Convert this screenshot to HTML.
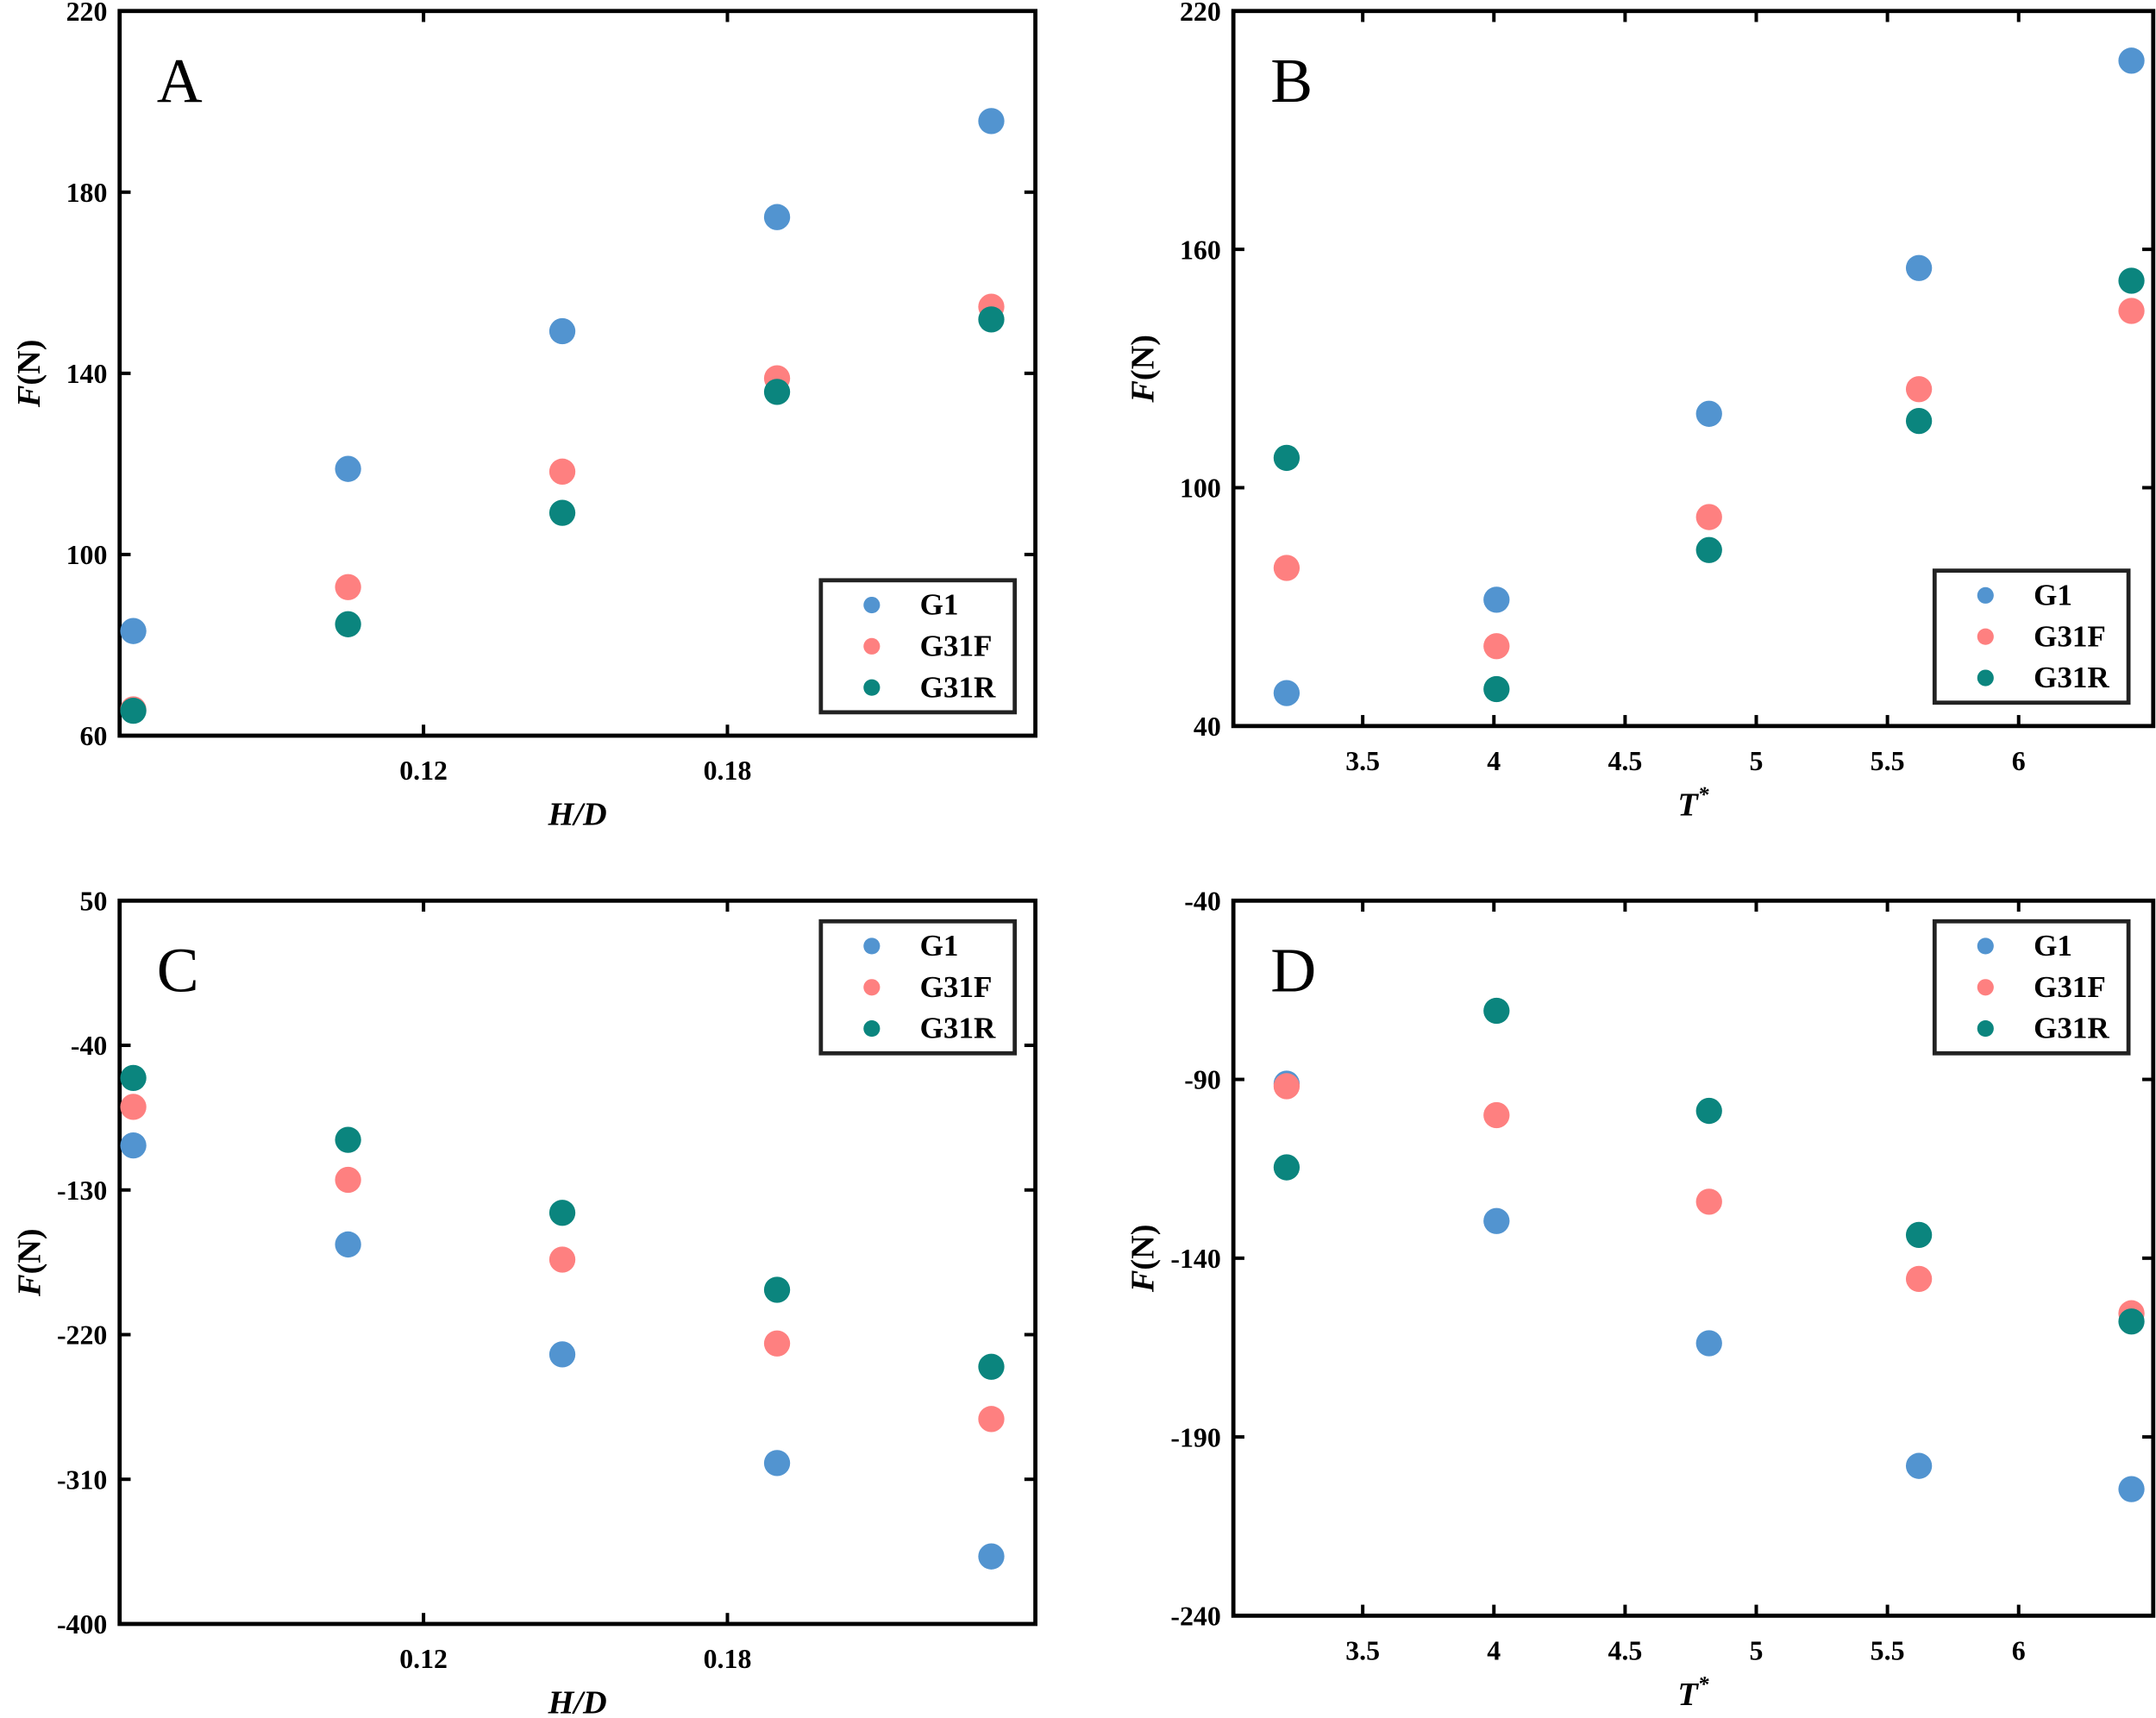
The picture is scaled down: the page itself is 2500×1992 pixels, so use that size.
<!DOCTYPE html>
<html><head><meta charset="utf-8"><style>
html,body{margin:0;padding:0;background:#fff}
svg{display:block}
text{font-family:"Liberation Serif",serif;font-weight:bold;fill:#000}
</style></head><body>
<svg id="fig" width="2500" height="1992" viewBox="0 0 1568 1249.4" xmlns="http://www.w3.org/2000/svg"></svg>
<script>
const seriesNames = ["G1","G31F","G31R"];
const seriesColors = ["#5294d0","#fe8080","#0b857e"];
// Panel A: H/D
const xA = [0.0627,0.1051,0.1474,0.1898,0.2321];
const aG1 = [83.1,118.9,149.3,174.5,195.7];
const aG31F = [65.8,92.8,118.3,138.9,154.7];
const aG31R = [65.5,84.6,109.2,135.9,151.9];
const xTicksA = [0.12,0.18];
const yTicksA = [60,100,140,180,220];
// Panel B: T*
const xB = [3.21,4.01,4.82,5.62,6.43];
const bG1 = [48.3,71.8,118.6,155.3,207.5];
const bG31F = [79.8,60.1,92.6,124.8,144.5];
const bG31R = [107.5,49.3,84.3,116.8,152.1];
const xTicksB = [3.5,4,4.5,5,5.5,6];
const yTicksB = [40,100,160,220];
// Panel C
const cG1 = [-102.3,-163.9,-232.3,-299.9,-358.0];
const cG31F = [-78.3,-123.7,-173.3,-225.5,-272.5];
const cG31R = [-60.3,-98.8,-144.2,-192.1,-240.0];
const yTicksC = [50,-40,-130,-220,-310,-400];
// Panel D
const dG1 = [-91.2,-129.6,-163.8,-198.1,-204.6];
const dG31F = [-91.9,-100.0,-124.2,-145.8,-155.4];
const dG31R = [-114.6,-70.8,-98.8,-133.5,-157.7];
const yTicksD = [-40,-90,-140,-190,-240];

const NS="http://www.w3.org/2000/svg";
const svg=document.getElementById('fig');
function mk(tag,attrs,parent){const e=document.createElementNS(NS,tag);for(const k in attrs)e.setAttribute(k,attrs[k]);(parent||svg).appendChild(e);return e;}

function panel(cfg){
  const g=mk('g',{});
  
  
  const {x0,x1,y0,y1,xmin,xmax,ymin,ymax}=cfg;
  const sx=v=>x0+(v-xmin)/(xmax-xmin)*(x1-x0);
  const sy=v=>y1-(v-ymin)/(ymax-ymin)*(y1-y0);
  const frame=mk('rect',{x:x0,y:y0,width:x1-x0,height:y1-y0,fill:'none',stroke:'#000','stroke-width':3},g);
  
  
  cfg.yTicks.forEach(v=>{
    const y=sy(v);
    const t1=mk('line',{x1:x0,x2:x0+8,y1:y,y2:y,stroke:'#000','stroke-width':2.5},g);
    
    
    mk('line',{x1:x1,x2:x1-8,y1:y,y2:y,stroke:'#000','stroke-width':2.5},g);
    const t=mk('text',{x:x0-9,y:y+7,'text-anchor':'end','font-size':20},g);
    t.textContent=v;
    
    
  });
  cfg.xTicks.forEach(v=>{
    const x=sx(v);
    const t1=mk('line',{x1:x,x2:x,y1:y1,y2:y1-8,stroke:'#000','stroke-width':2.5},g);
    
    
    mk('line',{x1:x,x2:x,y1:y0,y2:y0+8,stroke:'#000','stroke-width':2.5},g);
    const t=mk('text',{x:x,y:y1+32,'text-anchor':'middle','font-size':20},g);
    t.textContent=v;
    
    
  });
  const letter=mk('text',{x:x0+27,y:y0+66,'font-size':46},g);
  letter.style.fontWeight='normal';
  letter.textContent=cfg.id;
  
  
  const cy=(y0+y1)/2, tx=x0-58;
  const yt=mk('text',{x:tx,y:cy,'text-anchor':'middle','font-size':24,transform:`rotate(-90 ${tx} ${cy})`},g);
  yt.innerHTML='<tspan font-style="italic">F</tspan>(N)';
  
  
  if(cfg.xTitle){
    const xt=mk('text',{x:(x0+x1)/2,y:y1+65,'text-anchor':'middle','font-size':24,'font-style':'italic'},g);
    xt.innerHTML=cfg.xTitle;
    
    
  }
  cfg.series.forEach((vals,si)=>{
    vals.forEach((v,i)=>{
      const c=mk('ellipse',{cx:sx(cfg.xs[i]),cy:sy(v),rx:9.5,ry:9.5,fill:seriesColors[si]},g);
      
      
    });
  });
  const L=cfg.legend;
  const lg=mk('g',{},g);
  
  
  mk('rect',{x:L[0],y:L[1],width:141,height:96,fill:'#fff',stroke:'#222','stroke-width':3},lg);
  seriesNames.forEach((n,si)=>{
    const yy=L[1]+18+si*30;
    const m=mk('circle',{cx:L[0]+37,cy:yy,r:6,fill:seriesColors[si]},lg);
    
    
    const t=mk('text',{x:L[0]+72,y:yy+7,'font-size':22},lg);
    t.textContent=n;
    
    
  });
}
panel({id:'A',x0:87,x1:753,y0:8,y1:535,xmin:0.06,xmax:0.2408,ymin:60,ymax:220,xs:xA,xTicks:xTicksA,yTicks:yTicksA,series:[aG1,aG31F,aG31R],legend:[597,422],xTitle:'H/D'});
panel({id:'B',x0:897,x1:1566,y0:8,y1:528,xmin:3.007,xmax:6.513,ymin:40,ymax:220,xs:xB,xTicks:xTicksB,yTicks:yTicksB,series:[bG1,bG31F,bG31R],legend:[1407,415],xTitle:'T<tspan dy="-10" font-size="16">*</tspan>'});
panel({id:'C',x0:87,x1:753,y0:655,y1:1181,xmin:0.06,xmax:0.2408,ymin:-400,ymax:50,xs:xA,xTicks:xTicksA,yTicks:yTicksC,series:[cG1,cG31F,cG31R],legend:[597,670],xTitle:'H/D'});
panel({id:'D',x0:897,x1:1566,y0:655,y1:1175,xmin:3.007,xmax:6.513,ymin:-240,ymax:-40,xs:xB,xTicks:xTicksB,yTicks:yTicksD,series:[dG1,dG31F,dG31R],legend:[1407,670],xTitle:'T<tspan dy="-10" font-size="16">*</tspan>'});
</script>
</body></html>
